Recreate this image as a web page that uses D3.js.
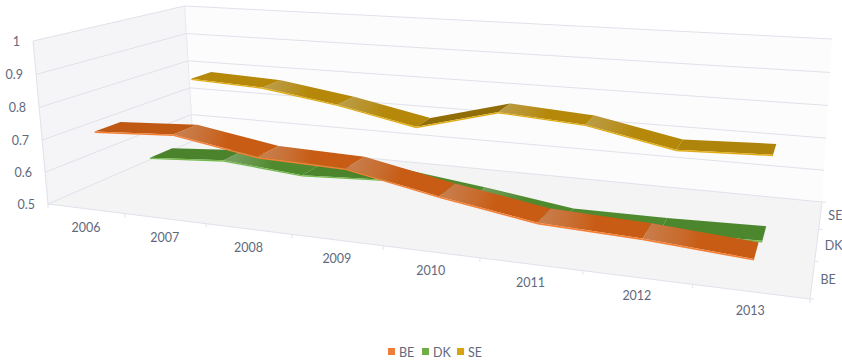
<!DOCTYPE html>
<html>
<head>
<meta charset="utf-8">
<style>
  body { margin: 0; background: #fff; }
  text { font-family: Lato, sans-serif; font-size: 12.5px; fill: #5f697d; }
</style>
</head>
<body>
<div id="chart"></div>
<script src="https://cdn.jsdelivr.net/npm/d3@7/dist/d3.min.js"></script>
<script>
const years = ["2006", "2007", "2008", "2009", "2010", "2011", "2012", "2013"];
const seriesNames = ["BE", "DK", "SE"];
const beValues = [0.721, 0.735, 0.693, 0.685, 0.633, 0.590, 0.579, 0.559];
const dkValues = [0.570, 0.587, 0.565, 0.578, 0.545, 0.508, 0.509, 0.516];
const seValues = [0.781, 0.769, 0.731, 0.679, 0.749, 0.731, 0.677, 0.687];
const valueTicks = [0.5, 0.6, 0.7, 0.8, 0.9, 1];

const topColors = { BE: "#c85c14", DK: "#4f8a2e", SE: "#b5880a" };
const edgeColors = { BE: "#f47f35", DK: "#74b84e", SE: "#e0ac14" };
const legendColors = { BE: "#ee7d3a", DK: "#70ad47", SE: "#d8a312" };

const width = 842, height = 363;

// Unit scales for the three chart axes: x runs along the years, y up the values, z into the depth
const xBand = d3.scaleBand().domain(years).range([0, 1]);
const xScale = d3.scalePoint().domain(years).range([0, 1]).padding(0.5);
const yScale = d3.scaleLinear().domain([0.5, 1]).range([0, 1]);
const zBand = d3.scaleBand().domain(seriesNames).range([0, 1]);
const zScale = d3.scalePoint().domain(seriesNames).range([0, 1]).padding(0.5);

// Perspective camera, solved from where the floor corners and wall tops land on screen
function makeCamera(floor, topFront, topBackY) {
    const [[x0, y0], [x1, y1], [x2, y2], [x3, y3]] = floor;
    const dx1 = x1 - x2, dx2 = x3 - x2, sx = x0 - x1 + x2 - x3;
    const dy1 = y1 - y2, dy2 = y3 - y2, sy = y0 - y1 + y2 - y3;
    const den = dx1 * dy2 - dx2 * dy1;
    const g = (sx * dy2 - dx2 * sy) / den;
    const h = (dx1 * sy - sx * dy1) / den;
    const pX = [x1 - x0 + g * x1, y1 - y0 + g * y1, g];
    const pZ = [x3 - x0 + h * x3, y3 - y0 + h * y3, h];
    const pO = [x0, y0, 1];
    const s = (topBackY * h - pZ[1]) / (topFront[1] - topBackY);
    const pY = [s * topFront[0] - x0, s * topFront[1] - y0, s - 1];
    return function (u, v, w) {
        const c = k => pX[k] * u + pY[k] * v + pZ[k] * w + pO[k];
        return [c(0) / c(2), c(1) / c(2)];
    };
}
const project = makeCamera([[48, 204], [810, 299], [822, 202], [193, 141]], [33, 41], 6);

const poly = pts => d3.line()(pts) + "Z";
const gridColor = "#dfe2ea";
const ribbonDepth = 0.08;
const edgeDrop = 0.009;

const svg = d3.select("#chart")
    .append("svg")
    .attr("width", width)
    .attr("height", height)
    .style("display", "block");
const defs = svg.append("defs");

// Floor and the two walls
svg.append("path")
    .attr("d", poly([project(0, 0, 0), project(1, 0, 0), project(1, 0, 1), project(0, 0, 1)]))
    .attr("fill", "#f4f4f5");
svg.append("path")
    .attr("d", poly([project(0, 0, 0), project(0, 1, 0), project(0, 1, 1), project(0, 0, 1)]))
    .attr("fill", "#f5f5f7");
svg.append("path")
    .attr("d", poly([project(0, 0, 1), project(0, 1, 1), project(1, 1, 1), project(1, 0, 1)]))
    .attr("fill", "#fcfcfc");

// Value gridlines wrap round the side wall and the back wall
svg.selectAll("path.grid")
    .data(valueTicks)
    .join("path")
    .classed("grid", true)
    .attr("d", d => {
        const v = yScale(d);
        return d3.line()([project(0, v, 0), project(0, v, 1), project(1, v, 1)]);
    })
    .attr("fill", "none")
    .attr("stroke", gridColor);

// Wall corner and floor outline
svg.append("path")
    .attr("d", d3.line()([project(0, 1, 0), project(0, 0, 0), project(1, 0, 0), project(1, 0, 1)]))
    .attr("fill", "none")
    .attr("stroke", gridColor);
svg.append("path")
    .attr("d", d3.line()([project(0, 1, 1), project(0, 0, 1)]))
    .attr("fill", "none")
    .attr("stroke", "#e8e9ee");

// Tick marks on the front and right edges of the floor
const xTickPos = years.map(d => xBand(d)).concat([1]);
svg.selectAll("line.x-tick")
    .data(xTickPos)
    .join("line")
    .classed("x-tick", true)
    .attr("x1", d => project(d, 0, 0)[0])
    .attr("y1", d => project(d, 0, 0)[1])
    .attr("x2", d => project(d, 0, 0)[0])
    .attr("y2", d => project(d, 0, 0)[1] + 4)
    .attr("stroke", gridColor);
const zTickPos = seriesNames.map(d => zBand(d)).concat([1]);
svg.selectAll("line.z-tick")
    .data(zTickPos)
    .join("line")
    .classed("z-tick", true)
    .attr("x1", d => project(1, 0, d)[0])
    .attr("y1", d => project(1, 0, d)[1])
    .attr("x2", d => project(1, 0, d)[0] + 4)
    .attr("y2", d => project(1, 0, d)[1])
    .attr("stroke", gridColor);

// Axis labels
svg.selectAll("text.y-label")
    .data(valueTicks)
    .join("text")
    .classed("y-label", true)
    .attr("x", d => project(0, yScale(d), 0)[0] - 13)
    .attr("y", d => project(0, yScale(d), 0)[1] + 5)
    .attr("text-anchor", "end")
    .text(d => d);
svg.selectAll("text.x-label")
    .data(years)
    .join("text")
    .classed("x-label", true)
    .attr("x", d => project(xScale(d), 0, 0)[0])
    .attr("y", d => project(xScale(d), 0, 0)[1] + 23)
    .attr("text-anchor", "middle")
    .text(d => d);
svg.selectAll("text.z-label")
    .data(seriesNames)
    .join("text")
    .classed("z-label", true)
    .attr("x", d => project(1, 0, zScale(d))[0] + 8)
    .attr("y", d => project(1, 0, zScale(d))[1] + 5)
    .text(d => d);

// One flat ribbon per series: each year-to-year piece gets a top face and a thin lit front edge
function drawRibbon(name, values) {
    const z = zScale(name);
    const g = svg.append("g").classed("ribbon-" + name, true);
    d3.pairs(values.map((v, i) => ({ u: xScale(years[i]), v: yScale(v), value: v })))
        .forEach(([a, b], i) => {
            const face = poly([
                project(a.u, a.v, z - ribbonDepth), project(b.u, b.v, z - ribbonDepth),
                project(b.u, b.v, z + ribbonDepth), project(a.u, a.v, z + ribbonDepth)
            ]);
            const rise = Math.max(0, b.value - a.value);
            g.append("path")
                .attr("d", face)
                .attr("fill", d3.color(topColors[name]).darker(rise * 9).formatHex());

            // Pieces after the first start with a pale sheen that fades out along the piece
            if (i > 0 && rise === 0) {
                const start = project(a.u, a.v, z), end = project(b.u, b.v, z);
                const id = "sheen-" + name + "-" + i;
                const grad = defs.append("linearGradient")
                    .attr("id", id)
                    .attr("gradientUnits", "userSpaceOnUse")
                    .attr("x1", start[0]).attr("y1", start[1])
                    .attr("x2", end[0]).attr("y2", end[1]);
                grad.append("stop").attr("offset", 0).attr("stop-color", "#c8c8c8").attr("stop-opacity", 0.3);
                grad.append("stop").attr("offset", 0.3).attr("stop-color", "#c8c8c8").attr("stop-opacity", 0.14);
                grad.append("stop").attr("offset", 0.5).attr("stop-color", "#c8c8c8").attr("stop-opacity", 0);
                g.append("path").attr("d", face).attr("fill", "url(#" + id + ")");
            }

            g.append("path")
                .attr("d", poly([
                    project(a.u, a.v, z - ribbonDepth), project(b.u, b.v, z - ribbonDepth),
                    project(b.u, b.v - edgeDrop, z - ribbonDepth), project(a.u, a.v - edgeDrop, z - ribbonDepth)
                ]))
                .attr("fill", edgeColors[name]);
        });
}
drawRibbon("SE", seValues);
drawRibbon("DK", dkValues);
drawRibbon("BE", beValues);

// Legend
const legendX = d3.scaleOrdinal().domain(seriesNames).range([388, 422, 457]);
const legend = svg.selectAll("g.legend")
    .data(seriesNames)
    .join("g")
    .classed("legend", true)
    .attr("transform", d => "translate(" + legendX(d) + ",348)");
legend.append("rect")
    .attr("width", 7)
    .attr("height", 7)
    .attr("fill", d => legendColors[d]);
legend.append("text")
    .attr("x", 11)
    .attr("y", 8.5)
    .text(d => d);
</script>
</body>
</html>
